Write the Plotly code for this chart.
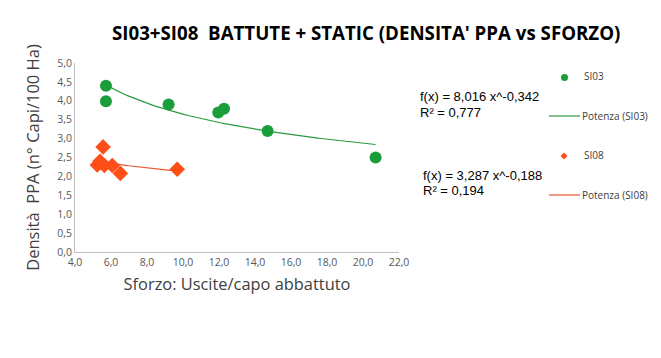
import numpy as np
import plotly.graph_objects as go

# Data
si03_x = [5.72, 5.72, 9.2, 11.96, 12.28, 14.7, 20.7]
si03_y = [4.40, 3.99, 3.90, 3.69, 3.79, 3.20, 2.50]
si08_x = [5.24, 5.39, 5.56, 5.63, 6.07, 6.52, 9.68]
si08_y = [2.30, 2.40, 2.78, 2.29, 2.29, 2.08, 2.19]

# Power trendline coefficients as printed on the chart
fit03 = (8.016, -0.342, 0.777)
fit08 = (3.287, -0.188, 0.194)

x_ticks = [4, 6, 8, 10, 12, 14, 16, 18, 20, 22]
y_ticks = [0, 0.5, 1, 1.5, 2, 2.5, 3, 3.5, 4, 4.5, 5]

GREEN = "#1A9E3A"
ORANGE = "#FF4E17"
LGREEN = "#2A9A3E"
LORANGE = "#E8552A"

tx03 = np.linspace(min(si03_x), max(si03_x), 60)
tx08 = np.linspace(min(si08_x), max(si08_x), 60)

fig = go.Figure()
fig.add_trace(go.Scatter(x=tx03, y=fit03[0] * tx03 ** fit03[1], mode="lines",
                         line=dict(color=LGREEN, width=1.2), name="Potenza (SI03)"))
fig.add_trace(go.Scatter(x=tx08, y=fit08[0] * tx08 ** fit08[1], mode="lines",
                         line=dict(color=LORANGE, width=1.2), name="Potenza (SI08)"))
fig.add_trace(go.Scatter(x=si03_x, y=si03_y, mode="markers",
                         marker=dict(symbol="circle", size=12, color=GREEN), name="SI03"))
fig.add_trace(go.Scatter(x=si08_x, y=si08_y, mode="markers",
                         marker=dict(symbol="diamond", size=12, color=ORANGE), name="SI08"))

W, H = 661, 358
L, R, T, B = 75, 262, 63, 106

def px(x):
    return (x - L) / (W - L - R)

def py(y):
    return 1 - (y - T) / (H - T - B)

EQ = dict(family="Liberation Sans", size=13, color="#000")
LG = dict(family="Open Sans", size=10, color="#404040")

annotations = [
    dict(x=px(366), y=py(32), xref="paper", yref="paper",
         text="<b>SI03+SI08  BATTUTE + STATIC (DENSITA' PPA vs SFORZO)</b>",
         showarrow=False, xanchor="center", yanchor="middle",
         font=dict(family="Open Sans", size=18.7, color="#000")),
    dict(x=px(418), y=py(96), xref="paper", yref="paper", text="f(x) = 8,016 x^-0,342",
         showarrow=False, xanchor="left", yanchor="middle", font=EQ),
    dict(x=px(418), y=py(112), xref="paper", yref="paper", text="R² = 0,777",
         showarrow=False, xanchor="left", yanchor="middle", font=EQ),
    dict(x=px(421), y=py(175), xref="paper", yref="paper", text="f(x) = 3,287 x^-0,188",
         showarrow=False, xanchor="left", yanchor="middle", font=EQ),
    dict(x=px(421), y=py(190), xref="paper", yref="paper", text="R² = 0,194",
         showarrow=False, xanchor="left", yanchor="middle", font=EQ),
    dict(x=px(582), y=py(76), xref="paper", yref="paper", text="SI03",
         showarrow=False, xanchor="left", yanchor="middle", font=LG),
    dict(x=px(580), y=py(116), xref="paper", yref="paper", text="Potenza (SI03)",
         showarrow=False, xanchor="left", yanchor="middle", font=LG),
    dict(x=px(582), y=py(155), xref="paper", yref="paper", text="SI08",
         showarrow=False, xanchor="left", yanchor="middle", font=LG),
    dict(x=px(580), y=py(195), xref="paper", yref="paper", text="Potenza (SI08)",
         showarrow=False, xanchor="left", yanchor="middle", font=LG),
]

shapes = [
    dict(type="circle", xref="paper", yref="paper", x0=px(561), x1=px(568), y0=py(74), y1=py(81),
         fillcolor=GREEN, line=dict(width=0)),
    dict(type="line", xref="paper", yref="paper", x0=px(549), x1=px(580), y0=py(116), y1=py(116),
         line=dict(color=LGREEN, width=1.2)),
    dict(type="path", xref="paper", yref="paper",
         path=f"M {px(560.5)} {py(156)} L {px(564)} {py(152.5)} L {px(567.5)} {py(156)} L {px(564)} {py(159.5)} Z",
         fillcolor=ORANGE, line=dict(width=0)),
    dict(type="line", xref="paper", yref="paper", x0=px(549), x1=px(580), y0=py(195), y1=py(195),
         line=dict(color=LORANGE, width=1.2)),
]

fig.update_layout(
    width=W, height=H,
    margin=dict(l=L, r=R, t=T, b=B),
    paper_bgcolor="white", plot_bgcolor="white",
    showlegend=False,
    separators=",.",
    annotations=annotations,
    shapes=shapes,
    xaxis=dict(range=[4, 22], tickvals=x_ticks, tickformat=".1f", showgrid=False, zeroline=False,
               showline=True, linecolor="#BFBFBF", linewidth=1, ticks="",
               tickfont=dict(family="Open Sans", size=10.5, color="#595959"),
               title=dict(text="Sforzo: Uscite/capo abbattuto", standoff=10,
                          font=dict(family="Open Sans", size=16.4, color="#404040"))),
    yaxis=dict(range=[0, 5], tickvals=y_ticks, tickformat=".1f", showgrid=False, zeroline=False,
               showline=True, linecolor="#BFBFBF", linewidth=1, ticks="",
               tickfont=dict(family="Open Sans", size=10.5, color="#595959"),
               title=dict(text="Densità  PPA (n° Capi/100 Ha)", standoff=13,
                          font=dict(family="Open Sans", size=16.5, color="#404040"))),
)

fig.write_html("out.html")
